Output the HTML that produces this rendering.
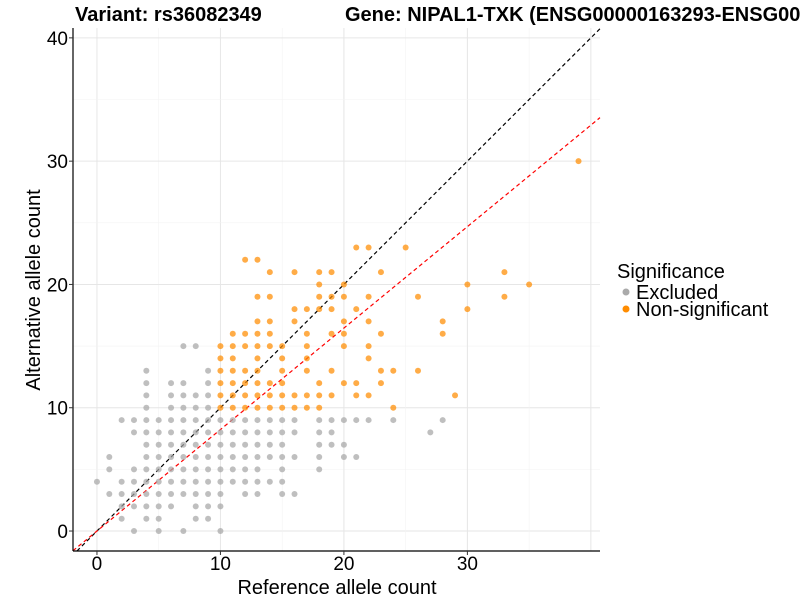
<!DOCTYPE html>
<html><head><meta charset="utf-8"><style>
body{margin:0;background:#fff;}
svg{display:block;font-family:"Liberation Sans",Arial,sans-serif;}
</style></head><body>
<svg id="chart" width="800" height="600">
<text x="75" y="21" font-size="20" font-weight="bold">Variant: rs36082349</text>
<text x="345" y="21" font-size="20" font-weight="bold">Gene: NIPAL1-TXK (ENSG00000163293-ENSG00000074966)</text>
<g id="grid"></g><g id="lines"></g><g id="pts"></g><g id="axes"></g>
<text x="337" y="594" font-size="20" text-anchor="middle">Reference allele count</text>
<text transform="translate(40,290) rotate(-90)" font-size="20" text-anchor="middle">Alternative allele count</text>
<g>
<text x="617" y="278" font-size="20">Significance</text>
<circle cx="626" cy="292" r="3.5" fill="#aaaaaa"/>
<text x="636" y="299" font-size="20">Excluded</text>
<circle cx="626" cy="309" r="3.5" fill="#ff8c00"/>
<text x="636" y="316" font-size="20">Non-significant</text>
</g>
</svg>
<script>
const xTicks=[0,10,20,30];
const yTicks=[0,10,20,30,40];
const excludedAlt=[15,13,12,11,10,9,8,7,6,5,4,3,2,1,0];
const excludedRef=[[7,8],[4,9],[4,6,7,9],[4,6,7,8,9],[4,6,7,8,9],
[2,3,4,5,6,7,8,9,10,11,12,13,14,15,16,18,19,20,21,22,24,28],
[3,4,5,6,7,8,9,10,11,12,13,14,15,16,18,19,27],
[4,5,6,7,8,9,10,11,12,13,14,15,18,19,20],
[1,4,5,6,7,8,9,10,11,12,13,14,15,16,18,20,21],
[1,3,4,5,6,7,8,9,10,11,12,13,15,18],
[0,2,3,4,5,6,7,8,9,10,11,12,13,14,15],
[1,2,3,4,5,6,7,8,9,10,12,13,15,16],
[2,3,4,5,6,8,9,10],[2,4,5,8,9],[3,5,7,10]];
const nonsigAlt=[30,23,22,21,20,19,18,17,16,15,14,13,12,11,10];
const nonsigRef=[[39],[21,22,25],[12,13],[14,16,18,19,23,33],[18,20,30,35],
[13,14,18,19,20,22,26,33],[16,17,18,19,21,30],[13,14,16,20,22,28],
[11,12,13,14,17,19,20,23,28],[10,11,12,13,14,15,17,20,22],[10,11,13,15,17,22],
[10,11,12,13,15,17,19,23,24,26],[10,11,12,13,14,15,18,20,21,23],
[10,11,12,13,14,15,16,17,18,19,21,22,29],[10,11,12,13,14,15,16,17,18,24]];
const refLineSlope=0.823;
const NS="http://www.w3.org/2000/svg";
const L=73,R=600,T=28,B=551,xMin=-1.94,xMax=40.74,yMin=-1.62,yMax=40.8;
const sx=v=>L+(v-xMin)/(xMax-xMin)*(R-L);
const sy=v=>B-(v-yMin)/(yMax-yMin)*(B-T);
function mk(tag,attrs,parent){const e=document.createElementNS(NS,tag);for(const k in attrs)e.setAttribute(k,attrs[k]);parent.appendChild(e);return e;}
const grid=document.getElementById('grid');
for(let v=-5;v<=45;v+=5){
  const major=v%10===0;
  if(v>xMin&&v<xMax){const l=mk('line',{x1:sx(v),x2:sx(v),y1:T,y2:B,stroke:major?'#e6e6e6':'#f3f3f3','stroke-width':major?1:0.6},grid);
  
  }
  if(v>yMin&&v<yMax){const l=mk('line',{x1:L,x2:R,y1:sy(v),y2:sy(v),stroke:major?'#e6e6e6':'#f3f3f3','stroke-width':major?1:0.6},grid);
  
  }
}
const lines=document.getElementById('lines');
function clipLine(m,color,name){
  let x0=xMin,y0=m*x0;if(y0<yMin){y0=yMin;x0=y0/m;}
  let x1=xMax,y1=m*x1;if(y1>yMax){y1=yMax;x1=y1/m;}
  const l=mk('line',{x1:sx(x0),y1:sy(y0),x2:sx(x1),y2:sy(y1),stroke:color,'stroke-width':1.2,'stroke-dasharray':'4,3'},lines);
  
  
}
clipLine(1,'#000','identity-line');
clipLine(refLineSlope,'#ff0000','fitted-ratio-line');
const pts=document.getElementById('pts');
function drawGroup(alts,refs,color,name){
  alts.forEach((a,i)=>refs[i].forEach(r=>{
    const c=mk('circle',{cx:sx(r),cy:sy(a),r:3,fill:color,'fill-opacity':0.72},pts);
    
    
  }));
}
drawGroup(excludedAlt,excludedRef,'#a6a6a6','point-excluded');
drawGroup(nonsigAlt,nonsigRef,'#ff8c00','point-non-significant');
const axes=document.getElementById('axes');
let a=mk('line',{x1:L,x2:L,y1:T,y2:B,stroke:'#000','stroke-width':1.2},axes);


a=mk('line',{x1:L,x2:R,y1:B,y2:B,stroke:'#000','stroke-width':1.2},axes);


xTicks.forEach(v=>{const x=sx(v);if(x>R)return;
  const t=mk('line',{x1:x,x2:x,y1:B,y2:B+4,stroke:'#333'},axes);
  
  
  const tx=mk('text',{x:x,y:B+19,'font-size':19,'text-anchor':'middle',fill:'#000'},axes);tx.textContent=v;
  
  });
yTicks.forEach(v=>{const y=sy(v);
  const t=mk('line',{x1:L-4,x2:L,y1:y,y2:y,stroke:'#333'},axes);
  
  
  const tx=mk('text',{x:L-5,y:y+7,'font-size':19,'text-anchor':'end',fill:'#000'},axes);tx.textContent=v;
  
  });
</script>
</body></html>
